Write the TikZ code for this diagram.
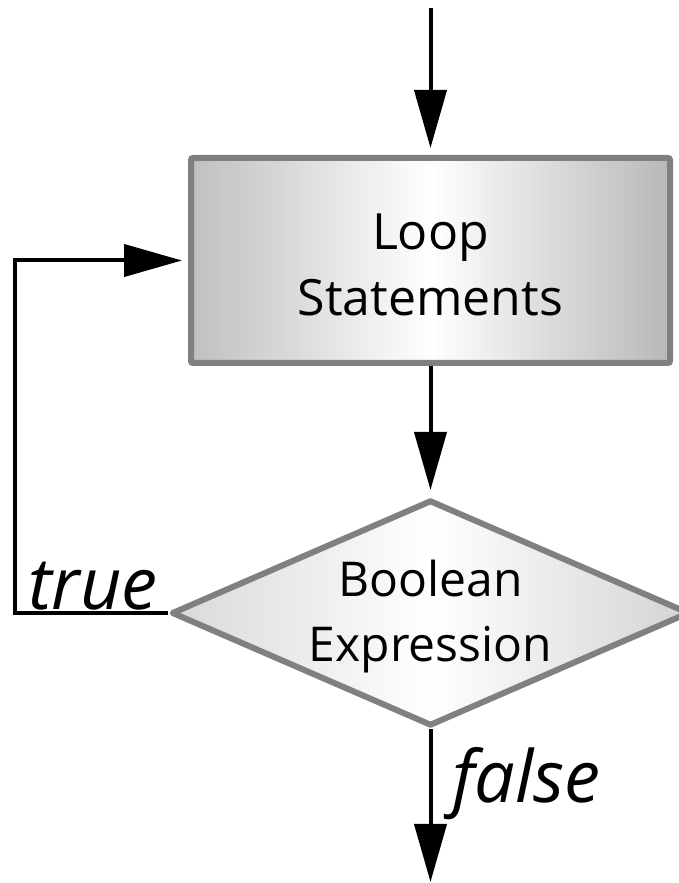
\documentclass[tikz,border=0pt]{standalone}
\usepackage{fontspec}
\setmainfont{Open Sans}
\usetikzlibrary{positioning,shapes.geometric,arrows.meta}

\tikzset{
	stmt/.style={rectangle, draw=black!50, line width=6pt, rounded corners=2pt,
		minimum width=479pt, minimum height=205pt, inner sep=0pt, align=center,
		left color=black!25, right color=black!28, middle color=white,
		text height=110pt, font=\fontsize{50}{66}\selectfont},
	test/.style={diamond, aspect=2.3, draw=black!50, line width=6pt, line join=round,
		minimum width=507pt, minimum height=226pt, inner sep=0pt, align=center,
		left color=black!15, right color=black!17, middle color=white,
		text height=108pt, font=\fontsize{48}{65}\selectfont},
	flow/.style={line width=4pt, -{Triangle[length=58pt,width=32pt]}},
	branch/.style={inner sep=0pt, anchor=base west,
		font=\fontsize{72}{72}\selectfont\itshape}
}

\begin{document}
\begin{tikzpicture}[x=1pt,y=1pt]
	\useasboundingbox (0,0) rectangle (679,883);
	\node[stmt] (body) at (430.5,622.5) {Loop\\Statements};
	\node[test, below=131pt of body] (cond) {Boolean\\Expression};
	\coordinate (entry) at (430.5,875);
	\coordinate (exit) at (430.5,1);
	\coordinate (back) at (15,0);
	\node[branch] (yes) at (28,273) {true};
	\node[branch] (no) at (452,80) {false};
	% flow lines
	\draw[flow, shorten >=7pt] (entry) -- (body);
	\draw[flow, shorten >=7pt] (body) -- (cond);
	\draw[flow] (cond) -- (exit);
	\draw[flow, shorten >=6pt] (cond.west) -- (cond.west -| back) |- (body.west);
\end{tikzpicture}
\end{document}
